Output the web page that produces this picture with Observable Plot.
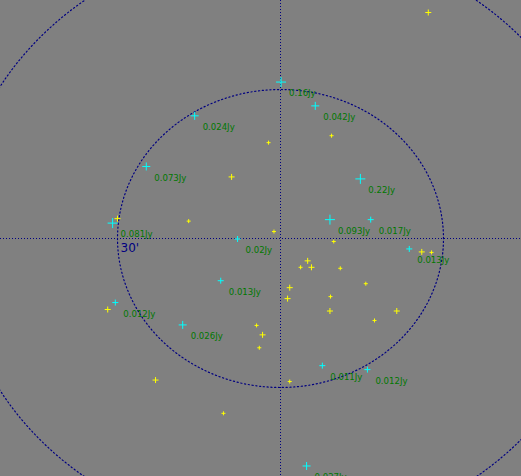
<!DOCTYPE html>
<html>
<head>
<meta charset="utf-8">
<script src="https://cdn.jsdelivr.net/npm/d3@7"></script>
<script src="https://cdn.jsdelivr.net/npm/@observablehq/plot@0.6"></script>
<style>
  html, body { margin: 0; padding: 0; background: #808080; overflow: hidden; }
  #chart svg { display: block; }
</style>
</head>
<body>
<div id="chart"></div>
<script>
// Offsets from field centre, arcmin (x: east-west, y: north-south)
const cyanX = [0.1, -15.8, -24.7, -30.9, 6.4, 14.7, 9.1, 16.6, -7.9, 23.7, -11.0, -30.4, -18.0, 7.7, 16.0, 4.8];
const cyanY = [31.5, 24.7, 14.5, 3.1, 26.7, 12.0, 3.8, 3.8, -0.1, -2.1, -8.5, -12.9, -17.4, -25.6, -26.4, -45.8];
const cyanFlux = [0.16, 0.024, 0.073, 0.081, 0.042, 0.22, 0.093, 0.017, 0.02, 0.013, 0.013, 0.012, 0.026, 0.011, 0.012, 0.027];

const yellowX = [27.2, -9.0, -30.0, -16.9, 9.4, -2.2, -1.2, 9.8, 26.0, 27.8, 5.0, 3.7, 5.7, 11.0, 15.7, 1.7, 1.3, 9.2, 9.1, 21.4, 17.3, 1.7, -4.4, -3.3, -3.9, -31.8, -23.0, -10.5];
const yellowY = [45.5, 12.4, 4.0, 3.5, 20.7, 19.3, 1.4, -0.6, -2.7, -2.8, -4.5, -5.8, -5.8, -6.0, -9.1, -9.9, -12.1, -11.7, -14.6, -14.6, -16.5, -28.8, -17.5, -19.4, -22.0, -14.3, -28.5, -35.2];
const yellowFlux = [0.008, 0.008, 0.008, 0.004, 0.005, 0.003, 0.004, 0.004, 0.006, 0.004, 0.006, 0.004, 0.008, 0.004, 0.004, 0.006, 0.008, 0.004, 0.006, 0.006, 0.004, 0.004, 0.004, 0.006, 0.004, 0.006, 0.006, 0.004];

const ringRadii = [30, 60];
const ringLabel = "30'";

const cyan = cyanX.map((x, i) => ({x, y: cyanY[i], flux: cyanFlux[i], label: cyanFlux[i] + "Jy"}));
const yellow = yellowX.map((x, i) => ({x, y: yellowY[i], flux: yellowFlux[i]}));
const rings = ringRadii.flatMap(r => d3.range(0, 360, 2).map(a => ({
  ring: r,
  x: r * Math.cos(a * Math.PI / 180),
  y: r * Math.sin(a * Math.PI / 180)
})));

const cross = {
  draw(ctx, size) {
    const h = Math.round(Math.sqrt(size / Math.PI));
    ctx.moveTo(-h, 0); ctx.lineTo(h, 0);
    ctx.moveTo(0, -h); ctx.lineTo(0, h);
  }
};

const chart = Plot.plot({
  width: 521,
  height: 476,
  margin: 0,
  style: {background: "#808080", overflow: "hidden"},
  x: {domain: [-30, 30], range: [117, 443], axis: null},
  y: {domain: [-30, 30], range: [387, 89], axis: null},
  r: {type: "log", domain: [0.003, 0.22], range: [2, 5.3]},
  marks: [
    Plot.ruleY([0], {stroke: "#000080", strokeWidth: 1, strokeDasharray: "1,2", shapeRendering: "crispEdges"}),
    Plot.ruleX([0], {stroke: "#000080", strokeWidth: 1, strokeDasharray: "1,2", shapeRendering: "crispEdges"}),
    Plot.line(rings, {x: "x", y: "y", z: "ring", curve: "linear-closed", stroke: "#000080", strokeWidth: 1.2, strokeDasharray: "1.2,2.6"}),
    Plot.text([{x: -ringRadii[0], y: 0}], {x: "x", y: "y", text: () => ringLabel, textAnchor: "start", dx: 3, dy: 10, fill: "#000080", fontSize: 12, fontFamily: "DejaVu Sans"}),
    Plot.dot(yellow, {x: "x", y: "y", r: "flux", symbol: cross, fill: "none", stroke: "#ffff00", strokeWidth: 1}),
    Plot.dot(cyan, {x: "x", y: "y", r: "flux", symbol: cross, fill: "none", stroke: "#00ffff", strokeWidth: 1}),
    Plot.text(cyan, {x: "x", y: "y", text: "label", textAnchor: "start", dx: 8, dy: 11, fill: "#007800", fontSize: 9.5, fontFamily: "DejaVu Sans Condensed, DejaVu Sans"})
  ]
});
document.getElementById("chart").appendChild(chart);
</script>
</body>
</html>
